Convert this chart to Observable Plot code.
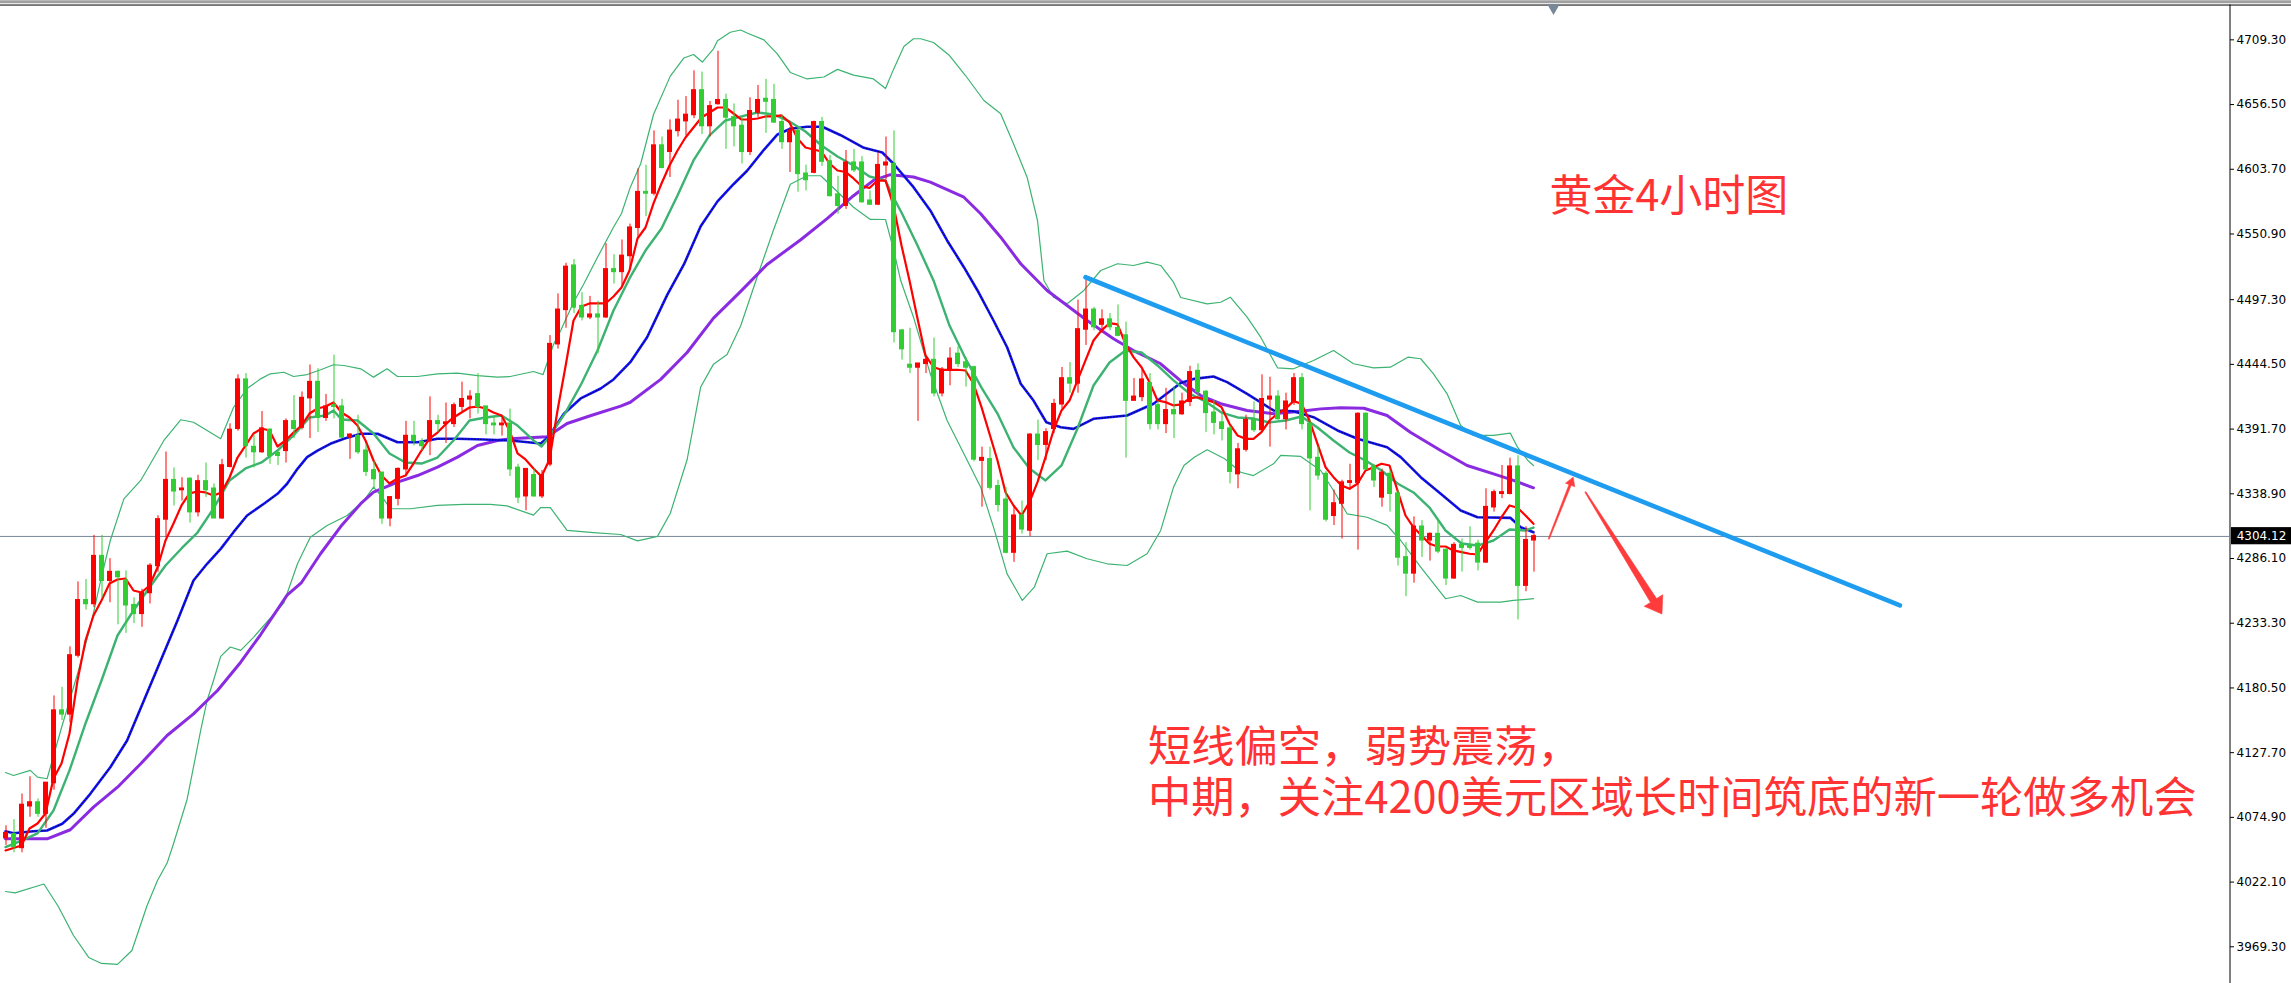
<!DOCTYPE html>
<html><head><meta charset="utf-8">
<script src="https://cdn.jsdelivr.net/npm/d3@7"></script>
<script src="https://cdn.jsdelivr.net/npm/@observablehq/plot@0.6"></script>
<style>html,body{margin:0;padding:0;background:#fff;overflow:hidden}#chart svg{display:block}</style>
</head><body><div id="chart"></div>
<script>
// ---- Candle data (XAUUSD H4), index 0..191 ----
const opens = [4058,4061,4050,4084,4087,4078,4103,4162,4159,4207,
4252,4249,4288,4268,4275,4268,4248,4241,4258,4280,
4318,4350,4342,4351,4324,4349,4343,4319,4361,4392,
4432,4377,4373,4391,4372,4374,4398,4393,4417,4430,
4401,4411,4410,4385,4386,4374,4358,4356,4319,4335,
4359,4386,4381,4382,4398,4396,4396,4410,4416,4420,
4410,4396,4395,4396,4360,4337,4354,4337,4363,4461,
4489,4525,4492,4483,4485,4483,4522,4520,4533,4556,
4585,4584,4623,4618,4635,4643,4648,4668,4639,4657,
4660,4646,4639,4618,4650,4661,4660,4642,4626,4635,
4600,4601,4642,4610,4583,4574,4609,4609,4578,4575,
4607,4608,4472,4444,4442,4445,4448,4421,4440,4453,
4446,4442,4366,4367,4345,4334,4291,4321,4309,4387,
4379,4392,4412,4433,4429,4473,4489,4477,4481,4474,
4468,4415,4418,4429,4411,4396,4407,4404,4414,4439,
4422,4405,4397,4392,4355,4375,4399,4391,4416,4418,
4400,4414,4433,4396,4368,4355,4321,4331,4348,4348,
4404,4361,4336,4355,4339,4287,4274,4312,4301,4306,
4293,4270,4297,4296,4298,4283,4328,4339,4339,4361,
4264,4301];
const highs = [4068,4073,4094,4108,4090,4103,4174,4181,4214,4267,
4269,4305,4305,4286,4276,4276,4254,4261,4282,4321,
4373,4360,4352,4352,4354,4364,4347,4367,4396,4436,
4437,4387,4406,4392,4374,4400,4419,4422,4444,4441,
4420,4452,4416,4388,4403,4379,4365,4356,4336,4360,
4398,4398,4384,4418,4403,4413,4413,4430,4423,4437,
4410,4402,4400,4408,4363,4359,4359,4358,4468,4502,
4527,4530,4503,4500,4496,4543,4534,4546,4559,4604,
4607,4635,4630,4644,4660,4663,4684,4683,4659,4700,
4665,4657,4646,4662,4672,4677,4673,4648,4638,4637,
4607,4643,4646,4615,4598,4619,4620,4614,4586,4617,
4630,4635,4473,4474,4445,4450,4466,4442,4458,4459,
4450,4443,4377,4377,4350,4344,4329,4333,4388,4399,
4392,4416,4442,4446,4497,4513,4491,4489,4486,4493,
4479,4433,4440,4437,4414,4425,4426,4421,4443,4445,
4423,4415,4404,4394,4380,4403,4414,4436,4434,4423,
4421,4437,4437,4399,4377,4357,4342,4350,4363,4405,
4405,4363,4359,4358,4342,4299,4320,4317,4307,4318,
4294,4299,4302,4312,4301,4343,4342,4362,4368,4370,
4312,4306];
const lows = [4052,4046,4046,4075,4075,4066,4097,4154,4152,4205,
4244,4246,4254,4250,4232,4225,4233,4230,4249,4275,
4303,4329,4333,4315,4320,4336,4319,4318,4360,4390,
4368,4360,4372,4363,4362,4364,4384,4391,4384,4389,
4398,4400,4384,4367,4371,4353,4343,4314,4312,4329,
4354,4378,4374,4370,4389,4380,4393,4406,4400,4404,
4387,4387,4386,4353,4331,4325,4336,4335,4361,4457,
4474,4486,4480,4481,4453,4482,4510,4509,4523,4548,
4565,4582,4604,4597,4630,4631,4645,4632,4630,4656,
4620,4622,4608,4615,4646,4633,4641,4620,4601,4585,
4586,4600,4606,4581,4567,4571,4601,4576,4574,4574,
4595,4462,4448,4437,4398,4437,4418,4418,4427,4442,
4426,4365,4328,4342,4324,4290,4283,4306,4304,4366,
4366,4388,4408,4421,4421,4460,4472,4470,4472,4467,
4368,4415,4414,4391,4391,4388,4384,4403,4410,4418,
4389,4387,4382,4347,4343,4373,4389,4389,4377,4399,
4391,4411,4391,4325,4350,4316,4313,4302,4342,4293,
4358,4344,4328,4324,4280,4255,4266,4287,4284,4290,
4264,4269,4275,4293,4276,4282,4324,4335,4338,4236,
4259,4275];
const closes = [4062,4051,4085,4087,4078,4103,4162,4159,4207,4252,
4249,4288,4268,4275,4271,4248,4241,4258,4280,4318,
4350,4341,4343,4324,4349,4342,4319,4362,4391,4432,
4378,4373,4392,4370,4370,4398,4392,4417,4430,4401,
4410,4410,4385,4387,4373,4357,4351,4319,4336,4359,
4386,4382,4378,4398,4396,4397,4411,4416,4418,4410,
4396,4395,4396,4359,4336,4359,4337,4354,4461,4489,
4524,4491,4483,4485,4483,4522,4520,4533,4556,4585,
4584,4623,4605,4635,4644,4648,4668,4639,4655,4660,
4646,4639,4618,4651,4660,4659,4642,4626,4635,4600,
4595,4642,4610,4582,4574,4609,4603,4577,4575,4607,
4609,4471,4457,4442,4445,4448,4421,4440,4449,4445,
4442,4367,4368,4344,4330,4291,4321,4310,4387,4379,
4389,4412,4433,4429,4473,4489,4475,4481,4475,4468,
4415,4418,4432,4396,4396,4407,4404,4414,4438,4422,
4405,4397,4392,4357,4375,4399,4391,4416,4418,4400,
4414,4433,4396,4368,4354,4318,4331,4348,4349,4404,
4359,4350,4356,4339,4287,4274,4312,4301,4306,4292,
4270,4297,4295,4295,4283,4328,4340,4340,4361,4264,
4301,4304.12];

// ---- Indicator lines, [bar index, price] ----
const maFast = [[0,4047.9],[2,4052.0],[3,4065.8],[4,4069.9],[5,4078.1],[6,4106.6],[7,4118.9],[8,4143.3],[9,4186.6],[10,4219.2],[11,4239.6],[12,4251.9],[13,4265.7],[14,4269.0],[15,4269.8],[16,4260.0],[17,4258.4],[18,4264.1],[19,4278.8],[20,4300.8],[21,4314.7],[22,4329.4],[23,4339.2],[24,4340.8],[25,4340.0],[26,4337.5],[27,4340.0],[28,4352.2],[29,4368.5],[30,4378.3],[31,4388.1],[32,4392.2],[33,4390.6],[34,4377.5],[35,4382.4],[36,4388.9],[37,4394.6],[38,4404.4],[39,4408.5],[40,4410.1],[41,4413.4],[42,4405.2],[43,4401.2],[44,4394.6],[45,4382.4],[46,4366.1],[47,4353.8],[48,4347.3],[49,4351.4],[50,4353.8],[51,4363.6],[52,4374.2],[53,4384.0],[54,4388.9],[55,4395.5],[56,4401.2],[57,4405.2],[58,4409.3],[59,4410.1],[60,4408.5],[61,4405.2],[62,4402.8],[63,4390.6],[64,4371.8],[65,4366.9],[66,4359.6],[67,4353.0],[68,4366.9],[69,4406.9],[70,4442.8],[71,4480.3],[72,4491.7],[73,4494.2],[74,4494.2],[75,4494.2],[76,4499.9],[77,4507.2],[78,4521.1],[79,4547.2],[80,4556.2],[81,4575.8],[82,4592.1],[83,4606.8],[84,4619.0],[85,4629.6],[86,4637.8],[87,4645.9],[88,4650.0],[89,4654.1],[90,4654.1],[91,4649.2],[92,4644.3],[93,4644.3],[94,4645.1],[95,4646.8],[96,4646.8],[97,4647.6],[98,4641.9],[99,4628.8],[100,4621.5],[101,4619.8],[102,4618.2],[103,4608.4],[104,4602.7],[105,4601.5],[106,4596.2],[107,4590.0],[108,4588.4],[109,4594.5],[110,4594.5],[111,4574.1],[112,4541.5],[113,4513.0],[114,4481.9],[115,4451.8],[116,4442.2],[117,4440.1],[118,4440.1],[119,4440.1],[120,4439.5],[121,4428.7],[122,4409.6],[123,4387.9],[124,4366.1],[125,4340.2],[126,4329.4],[127,4321.2],[128,4332.1],[129,4348.4],[130,4368.8],[131,4390.6],[132,4406.9],[133,4415.0],[134,4431.4],[135,4447.7],[136,4464.0],[137,4472.2],[138,4478.1],[139,4477.1],[140,4461.3],[141,4450.4],[142,4442.2],[143,4430.0],[144,4415.0],[145,4413.7],[146,4411.0],[147,4411.8],[148,4416.7],[149,4417.7],[150,4415.6],[151,4413.7],[152,4409.6],[153,4396.0],[154,4386.5],[155,4383.8],[156,4383.8],[157,4389.2],[158,4398.7],[159,4404.2],[160,4408.3],[161,4414.5],[162,4412.4],[163,4398.7],[164,4379.7],[165,4360.6],[166,4352.5],[167,4345.7],[168,4343.0],[169,4347.1],[170,4357.9],[171,4360.6],[172,4363.4],[173,4362.0],[174,4341.6],[175,4321.2],[176,4311.6],[177,4304.9],[178,4298.1],[179,4295.9],[180,4295.9],[181,4292.7],[182,4291.3],[183,4290.0],[184,4289.4],[185,4299.4],[186,4309.0],[187,4319.8],[188,4329.4],[189,4327.5],[190,4321.2],[191,4314.4]];
const maMid = [[0,4050.6],[2,4056.0],[4,4061.8],[6,4080.5],[8,4113.2],[10,4151.5],[12,4186.6],[14,4223.3],[16,4243.7],[18,4262.5],[20,4280.4],[22,4294.3],[24,4307.3],[26,4326.9],[28,4349.8],[30,4359.6],[32,4364.5],[34,4374.2],[36,4386.5],[38,4401.2],[40,4402.8],[41,4406.9],[42,4399.5],[44,4398.7],[46,4388.1],[48,4371.8],[50,4364.5],[52,4363.6],[54,4368.5],[56,4382.4],[58,4398.7],[60,4401.2],[62,4402.8],[64,4394.6],[66,4382.4],[67,4377.5],[68,4385.7],[70,4405.2],[72,4428.9],[74,4455.8],[76,4488.5],[78,4514.6],[80,4537.4],[82,4555.4],[84,4582.3],[86,4610.9],[88,4631.3],[90,4643.5],[92,4646.8],[94,4650.0],[96,4648.4],[98,4642.7],[100,4634.5],[102,4623.1],[104,4614.1],[106,4606.8],[108,4597.8],[110,4594.5],[111,4580.7],[112,4568.4],[114,4541.5],[116,4513.0],[118,4476.2],[120,4449.3],[122,4425.6],[124,4404.4],[126,4376.7],[128,4359.6],[130,4349.8],[132,4362.0],[134,4392.2],[136,4427.3],[138,4446.0],[140,4455.8],[142,4454.2],[144,4443.6],[146,4431.4],[148,4420.7],[150,4414.2],[152,4405.2],[154,4401.2],[156,4400.3],[158,4397.1],[160,4398.7],[162,4402.0],[164,4393.0],[166,4382.4],[168,4372.6],[170,4366.1],[172,4357.9],[174,4347.3],[176,4340.0],[178,4327.7],[180,4309.0],[182,4298.4],[184,4296.7],[186,4300.8],[188,4309.8],[190,4309.0],[191,4311.4]];
const maSlow = [[0,4063.6],[1,4062.0],[3.5,4063.6],[5.2,4064.2],[7.1,4069.7],[8.5,4077.8],[10.6,4094.1],[13.1,4115.8],[15.2,4137.6],[17.3,4170.3],[19.4,4202.9],[21.5,4235.5],[23.5,4268.2],[25.2,4281.8],[26.9,4294.0],[28.5,4307.6],[30.2,4321.2],[32.3,4330.8],[34,4338.9],[35.2,4347.1],[36.5,4359.3],[37.7,4368.8],[39,4374.2],[40.6,4379.7],[42.3,4383.8],[44.4,4387.9],[46.5,4387.9],[49,4381.0],[51.5,4381.0],[54,4383.8],[56.5,4383.8],[59.8,4383.2],[63.1,4382.4],[66.9,4380.0],[67.9,4385.4],[69.8,4404.2],[71.9,4416.7],[74.4,4424.8],[76,4432.2],[78.1,4446.3],[80.2,4466.6],[82.7,4501.0],[84.8,4526.0],[86.9,4557.2],[89,4577.5],[91,4591.5],[92.7,4602.5],[94.8,4619.6],[96.5,4632.1],[98.1,4636.8],[100.2,4638.4],[102.1,4638.4],[104.4,4631.5],[107.3,4621.2],[109.6,4617.4],[111,4608.2],[113.5,4589.1],[115.6,4570.1],[117.7,4545.6],[119.8,4523.8],[121.5,4504.8],[123.5,4480.3],[125.2,4458.5],[126.9,4428.7],[128.5,4415.0],[130.1,4397.3],[131.9,4393.2],[133.5,4391.9],[136,4400.1],[140.2,4402.8],[143.5,4412.4],[146.9,4429.3],[148.6,4432.7],[151,4434.6],[152.7,4430.0],[155.2,4420.5],[158.5,4406.9],[161,4406.3],[163.5,4401.4],[166.5,4390.6],[169,4383.8],[172.7,4376.9],[174.4,4368.8],[176.9,4352.5],[179.4,4338.9],[181.9,4325.3],[184,4319.8],[188.1,4319.3],[189.4,4311.6],[191,4307.6]];
const maLong = [[0,4057.4],[5.2,4057.4],[8.1,4064.8],[11,4083.2],[14,4099.5],[16.9,4118.6],[20.2,4141.7],[23.5,4159.4],[26.5,4178.4],[29.4,4201.5],[31.9,4224.1],[35.2,4256.2],[37,4266.5],[39.4,4290.2],[41.9,4312.2],[44.4,4330.8],[46,4340.2],[49,4348.4],[51.5,4353.8],[54,4360.6],[56.5,4368.8],[59,4378.3],[61.5,4382.4],[63.1,4383.8],[66,4384.9],[67.7,4385.4],[70.2,4396.3],[73.1,4402.6],[76.9,4410.4],[78.1,4413.6],[81.9,4432.3],[85.2,4454.2],[88.5,4482.3],[91.9,4504.1],[95.2,4526.0],[99.4,4546.2],[102.7,4563.4],[106,4582.1],[108.5,4594.6],[110.6,4599.3],[113.5,4597.4],[115.6,4593.2],[119.8,4580.9],[121.9,4567.4],[124.4,4548.3],[126.9,4526.6],[130.2,4504.8],[132.7,4492.6],[135.2,4480.3],[138.5,4465.4],[141,4455.8],[144.4,4445.0],[146.9,4431.0],[149.4,4419.1],[151.9,4412.4],[155.2,4406.9],[158.5,4404.2],[161.9,4406.3],[164.4,4408.2],[166.9,4409.1],[169.8,4408.7],[172.7,4402.8],[175.6,4389.2],[179.4,4374.2],[182.7,4362.0],[186,4355.2],[188.5,4349.8],[191,4343.8]];
const bandUpper = [[0,4111.5],[1,4109.1],[3.1,4113.2],[4,4107.7],[5.2,4106.4],[6.9,4145.8],[9,4192.0],[10.6,4230.1],[11.9,4268.2],[13.1,4300.8],[14.8,4334.8],[16.9,4349.8],[19.8,4382.4],[21.9,4399.3],[23.5,4397.3],[25.2,4390.6],[26.9,4383.8],[28.5,4409.3],[30.2,4424.8],[31.9,4432.7],[33.1,4436.8],[34.8,4438.1],[36,4434.6],[37.7,4436.2],[39.4,4440.1],[41,4444.2],[42.3,4443.6],[44.4,4440.9],[46,4434.1],[47.7,4440.9],[49,4434.6],[51.5,4434.6],[54,4436.8],[56.5,4437.3],[59,4435.4],[61.5,4434.1],[63.1,4434.6],[66,4438.7],[67.2,4436.2],[68.5,4460.7],[69.4,4472.2],[71,4495.0],[72.3,4510.3],[74,4531.9],[76,4556.4],[77,4567.6],[78.1,4589.1],[79.4,4608.2],[81,4648.4],[83.1,4679.7],[84.8,4694.5],[86,4697.3],[87.1,4691.2],[88.5,4702.0],[89,4708.6],[90.6,4715.5],[91.9,4717.3],[92.7,4714.9],[94.8,4709.3],[96.5,4697.7],[98.1,4682.7],[100.2,4677.4],[102.3,4679.0],[104,4685.2],[106,4680.5],[108.5,4677.4],[110,4669.6],[111,4685.2],[112.3,4703.9],[113.5,4710.2],[114.4,4710.2],[116,4707.1],[118,4696.5],[120,4680.2],[122.3,4659.8],[124.4,4649.0],[126,4624.5],[127.7,4597.2],[129,4561.9],[129.8,4513.0],[131,4499.3],[132.7,4493.9],[134.8,4504.8],[136.9,4521.1],[139,4526.6],[141,4525.2],[142.7,4527.9],[144.4,4525.2],[146,4511.6],[146.9,4499.1],[150.2,4493.9],[151.9,4495.2],[153.1,4499.3],[155.2,4483.0],[156.9,4466.7],[159,4441.7],[161,4440.9],[163.5,4447.7],[166,4455.8],[168.5,4445.0],[171,4441.7],[173.1,4442.2],[175.3,4450.4],[176.9,4449.1],[178.5,4436.8],[180.2,4420.5],[181.9,4394.6],[183.5,4386.5],[186,4386.5],[188.1,4388.4],[189,4376.9],[190.3,4366.1],[191,4362.0]];
const bandLower = [[0,4014.4],[1.2,4013.3],[4.8,4020.5],[6.6,4002.2],[8.5,3978.5],[10.4,3960.6],[12,3955.7],[14,3954.9],[15.8,3966.3],[17.7,4003.0],[19,4023.4],[20.2,4037.6],[21,4053.4],[22.7,4089.5],[24.4,4145.8],[25.2,4170.3],[26,4186.6],[26.9,4206.2],[28.1,4213.9],[29.4,4211.1],[31,4221.8],[34.8,4250.0],[36.5,4281.8],[38.1,4303.5],[40.2,4313.1],[42.7,4321.2],[44.8,4333.4],[46,4344.3],[47.1,4336.2],[48.1,4326.7],[50.6,4326.7],[54,4329.4],[57.3,4330.2],[60.6,4330.2],[62.7,4329.0],[66,4321.5],[66.9,4327.7],[68.1,4327.7],[70.2,4309.0],[73.5,4307.3],[76.9,4305.7],[79,4300.5],[81.5,4304.2],[83.1,4323.0],[85.2,4366.7],[86.9,4426.1],[88.5,4444.7],[90.2,4452.6],[91.9,4476.0],[94,4516.6],[96,4554.1],[98.1,4591.5],[100.2,4598.4],[101.9,4598.4],[103.5,4588.4],[106,4572.7],[108.1,4562.8],[110,4562.7],[111,4538.4],[111.9,4512.9],[113.5,4483.0],[115.6,4436.8],[117.7,4398.7],[119.8,4371.5],[121.9,4344.3],[123.5,4311.7],[125.2,4273.6],[127.1,4251.9],[128.6,4262.7],[130.2,4290.0],[132.7,4292.1],[135.2,4285.9],[137.7,4281.8],[140.2,4280.4],[142.7,4290.0],[144.4,4309.0],[146,4344.3],[147.3,4362.0],[148.6,4368.8],[150.2,4374.8],[152.4,4367.5],[154.4,4356.5],[156,4353.8],[158.5,4363.4],[159.4,4370.2],[161.9,4369.4],[164.4,4357.9],[166,4341.6],[167.7,4322.6],[170.2,4319.8],[172.7,4313.1],[174.4,4300.8],[176.9,4279.0],[180,4253.3],[181.9,4255.9],[184,4250.5],[186.9,4250.5],[188.5,4251.9],[191,4253.3]];

// ---- Axis ticks and annotations ----
const yTicks = [4709.30,4656.50,4603.70,4550.90,4497.30,4444.50,4391.70,4338.90,4286.10,4233.30,4180.50,4127.70,4074.90,4022.10,3969.30];
const trendLine = [[135.0,4515.6],[236.8,4247.9]];
const arrowShapes = [
  {id:"up",   pts:[[192.85,4302.4],[195.44,4346.5],[195.0,4347.6],[195.96,4352.5],[196.15,4344.7],[195.71,4345.9],[192.98,4302.0]]},
  {id:"down", pts:[[197.44,4340.0],[205.63,4250.3],[204.84,4247.1],[207.06,4240.8],[207.16,4256.6],[206.38,4253.4],[197.56,4340.5]]}
];
const titleLabel = [{text:"黄金4小时图", i:193.0, p:4580.7}];
const noteLabel = [{text:"短线偏空，弱势震荡，\n中期，关注4200美元区域长时间筑底的新一轮做多机会", i:142.8, p:4112.8}];
const lastPrice = closes[closes.length-1];

// ---- Build tables ----
const candles = opens.map((o,i)=>({i, o, h:highs[i], l:lows[i], c:closes[i], up: closes[i] >= o}));
const toPts = a => a.map(([i,p])=>({i,p}));
const arrowPts = arrowShapes.flatMap(s => s.pts.map(([i,p])=>({id:s.id,i,p})));

const RED = "#ff0000", GREEN = "#32cd32";
const X0 = -0.625, XR = 278, XMAX = 285.75;
const YMIN = 3939.35, YMAX = 4741.4;

const chart = Plot.plot({
  width: 2291, height: 983,
  marginLeft: 0, marginRight: 62, marginTop: 0, marginBottom: 0,
  x: {domain: [X0, XR], axis: null},
  y: {domain: [YMIN, YMAX], axis: null},
  style: {background: "white", overflow: "visible", fontFamily: "DejaVu Sans"},
  marks: [
    // top strip and border
    Plot.ruleY([4740.4], {x1: X0, x2: XMAX, stroke: "#a0a0a0", strokeWidth: 3}),
    Plot.ruleY([4737.7], {x1: X0, x2: XMAX, stroke: "#000", strokeWidth: 1}),
    Plot.dot([{i:193.5, p:4735.2}], {x:"i", y:"p", symbol:"triangle", rotate:180, r:4.5, fill:"#778899", stroke:"none"}),
    // current price line
    Plot.ruleY([lastPrice], {x1: X0, x2: XR, stroke: "#778899", strokeWidth: 1}),
    // bollinger bands
    Plot.line(toPts(bandUpper), {x:"i", y:"p", stroke:"#3cb371", strokeWidth:1.2}),
    Plot.line(toPts(bandLower), {x:"i", y:"p", stroke:"#3cb371", strokeWidth:1.2}),
    // moving averages
    Plot.line(toPts(maLong), {x:"i", y:"p", stroke:"#8a2be2", strokeWidth:3}),
    Plot.line(toPts(maSlow), {x:"i", y:"p", stroke:"#1515ff", strokeWidth:2.6}),
    Plot.line(toPts(maSlow), {x:"i", y:"p", stroke:"#06064a", strokeWidth:1, strokeDasharray:"1,2"}),
    Plot.line(toPts(maMid), {x:"i", y:"p", stroke:"#3cb371", strokeWidth:2.4}),
    Plot.line(toPts(maFast), {x:"i", y:"p", stroke:"#ff0000", strokeWidth:2.2}),
    // candles
    Plot.ruleX(candles, {x: d => d.i + 0.0625, y1:"l", y2:"h", stroke: d => d.up ? RED : GREEN, strokeWidth:1}),
    Plot.rect(candles, {x1: d => d.i - 0.25, x2: d => d.i + 0.375, y1: d => Math.min(d.o,d.c), y2: d => Math.max(d.o,d.c), fill: d => d.up ? RED : GREEN, insetTop:-0.8, insetBottom:-0.8}),
    // trend line
    Plot.line(toPts(trendLine), {x:"i", y:"p", stroke:"#1e9cf0", strokeWidth:4.6}),
    // annotation arrows
    Plot.line(arrowPts, {x:"i", y:"p", z:"id", fill:"#ff3b3b", stroke:"#ff3b3b", strokeWidth:0.6, curve:"linear-closed"}),
    // annotation texts
    Plot.text(titleLabel, {x:"i", y:"p", text:"text", textAnchor:"start", fill:"#ff3333", fontSize:43, fontFamily:"Noto Sans CJK SC"}),
    Plot.text(noteLabel, {x:"i", y:"p", text:"text", textAnchor:"start", lineAnchor:"middle", lineHeight:1.18, fill:"#ff3333", fontSize:43.3, fontFamily:"Noto Sans CJK SC"}),
    // right price axis
    Plot.ruleX([XR + 0.0625], {y1: YMIN, y2: 4737.7, stroke:"#000", strokeWidth:1}),
    Plot.axisY(yTicks, {anchor:"right", tickSize:4, tickPadding:3, tickFormat: d => d.toFixed(2), fontSize:12, fontFamily:"DejaVu Sans", color:"#000"}),
    Plot.rect([lastPrice], {x1: XR + 0.25, x2: XMAX, y1: d => d - 6.8, y2: d => d + 7.2, fill:"#000"}),
    Plot.text([lastPrice], {x: XR + 0.9, y: d => d, text: d => d.toFixed(2), fill:"#fff", textAnchor:"start", fontSize:12, fontFamily:"DejaVu Sans"})
  ]
});
document.getElementById("chart").appendChild(chart);
</script>
</body></html>
